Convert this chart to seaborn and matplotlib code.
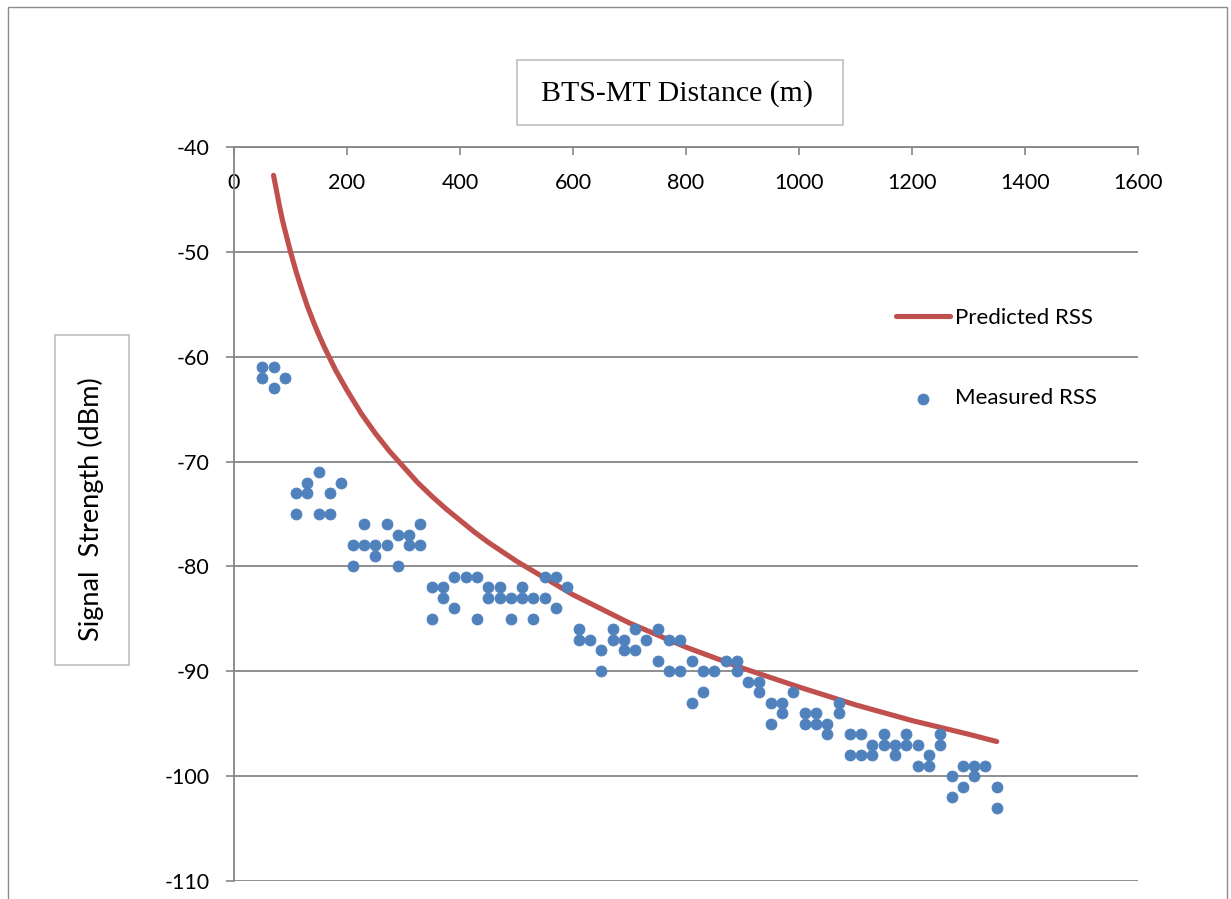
import matplotlib
matplotlib.use("Agg")
import matplotlib.pyplot as plt
import seaborn as sns
import pandas as pd
from matplotlib.patches import Rectangle

# ---------------- data ----------------
distance_m = [50, 50, 70, 70, 90, 110, 110, 130, 130, 150, 150, 170, 170, 190,
              210, 210, 230, 230, 250, 250, 270, 270, 290, 290, 310, 310, 330, 330,
              350, 350, 370, 370, 390, 390, 410, 430, 430, 450, 450, 470, 470,
              490, 490, 510, 510, 530, 530, 550, 550, 570, 570, 590,
              610, 610, 630, 650, 650, 670, 670, 690, 690, 710, 710, 730,
              750, 750, 770, 770, 790, 790, 810, 810, 830, 830, 850, 870,
              890, 890, 910, 930, 930, 950, 950, 970, 970, 990,
              1010, 1010, 1030, 1030, 1050, 1050, 1070, 1070, 1090, 1090,
              1110, 1110, 1130, 1130, 1150, 1150, 1170, 1170, 1190, 1190,
              1210, 1210, 1230, 1230, 1250, 1250, 1270, 1270, 1290, 1290,
              1310, 1310, 1330, 1350, 1350]
measured_rss = [-61, -62, -61, -63, -62, -73, -75, -72, -73, -71, -75, -73, -75, -72,
                -78, -80, -76, -78, -78, -79, -76, -78, -77, -80, -77, -78, -76, -78,
                -82, -85, -82, -83, -81, -84, -81, -81, -85, -82, -83, -82, -83,
                -83, -85, -82, -83, -83, -85, -81, -83, -81, -84, -82,
                -86, -87, -87, -88, -90, -86, -87, -87, -88, -86, -88, -87,
                -86, -89, -87, -90, -87, -90, -89, -93, -90, -92, -90, -89,
                -89, -90, -91, -91, -92, -93, -95, -93, -94, -92,
                -94, -95, -94, -95, -95, -96, -93, -94, -96, -98,
                -96, -98, -97, -98, -96, -97, -97, -98, -96, -97,
                -97, -99, -98, -99, -96, -97, -100, -102, -99, -101,
                -99, -100, -99, -101, -103]

pred_distance_m = [70, 75, 80, 85, 90, 100, 110, 120, 130, 140, 150, 160, 170, 180,
                   200, 225, 250, 275, 300, 325, 350, 375, 400, 425, 450, 500,
                   600, 700, 800, 900, 1000, 1100, 1200, 1300, 1350]
predicted_rss = [-42.7, -44.1, -45.5, -46.8, -47.9, -50.0, -51.9, -53.6, -55.2, -56.6,
                 -57.9, -59.1, -60.2, -61.3, -63.2, -65.4, -67.3, -69.0, -70.5, -72.0,
                 -73.3, -74.5, -75.6, -76.7, -77.7, -79.5, -82.7, -85.4, -87.7, -89.7,
                 -91.5, -93.2, -94.7, -96.0, -96.7]

x_ticks = [0, 200, 400, 600, 800, 1000, 1200, 1400, 1600]
y_ticks = [-110, -100, -90, -80, -70, -60, -50, -40]

x_title = "BTS-MT Distance (m)"
y_title = "Signal  Strength (dBm)"

# ---------------- style ----------------
sns.set_theme(style="white")
plt.rcParams['font.family'] = ['Lato', 'DejaVu Sans']

W, H = 1231, 899
fig = plt.figure(figsize=(W / 100, H / 100), dpi=100)
fig.patch.set_facecolor("white")

def fx(px):
    return px / W

def fy(py):
    return 1 - py / H

ax = fig.add_axes([fx(234), fy(881), fx(1138) - fx(234), fy(147) - fy(881)])
ax.set_facecolor("white")

gridc = "#868686"
blue = "#4F81BD"
red = "#C0504D"

meas = pd.DataFrame({"distance": distance_m, "rss": measured_rss})
pred = pd.DataFrame({"distance": pred_distance_m, "rss": predicted_rss})

sns.lineplot(data=pred, x="distance", y="rss", ax=ax, color=red, linewidth=3.7,
             label="Predicted RSS", sort=False, estimator=None, zorder=3,
             solid_capstyle="round", solid_joinstyle="round")
sns.scatterplot(data=meas, x="distance", y="rss", ax=ax, color=blue, s=62,
                edgecolor=blue, linewidth=0.6, label="Measured RSS", zorder=4)

ax.set_xlim(0, 1600)
ax.set_ylim(-110, -40)
ax.set_xticks(x_ticks)
ax.set_yticks(y_ticks)
ax.set_xticklabels([str(v) for v in x_ticks])
ax.set_yticklabels([str(v) for v in y_ticks])
ax.set_xlabel("")
ax.set_ylabel("")

ax.yaxis.grid(True, color=gridc, linewidth=1.3)
ax.xaxis.grid(False)
ax.set_axisbelow(True)

for side in ["right", "bottom"]:
    ax.spines[side].set_visible(False)
for side in ["left", "top"]:
    ax.spines[side].set_visible(True)
    ax.spines[side].set_color(gridc)
    ax.spines[side].set_linewidth(1.3)

ax.xaxis.set_ticks_position("top")
ax.tick_params(axis="x", top=True, bottom=False, labeltop=True, labelbottom=False,
               direction="in", length=6, width=1.2, color=gridc, pad=-19,
               labelsize=15.5, labelcolor="black")
for t in ax.xaxis.get_major_ticks():
    t.label2.set_va("top")
ax.tick_params(axis="y", left=True, direction="out", length=5.5, width=1.2,
               color=gridc, pad=12, labelsize=15.5, labelcolor="black")

# legend
handles, labels = ax.get_legend_handles_labels()
leg = ax.legend(handles, labels, frameon=False, loc="upper left",
                bbox_to_anchor=(fx(896), fy(308)), bbox_transform=fig.transFigure,
                borderpad=0, borderaxespad=0, handlelength=2.45, handletextpad=0.2,
                labelspacing=2.72, fontsize=16, markerscale=1.0)
for txt in leg.get_texts():
    txt.set_color("black")

# outer frame
fig.patches.append(Rectangle((fx(8), fy(905)), fx(1227) - fx(8), fy(7) - fy(905),
                             transform=fig.transFigure, fill=False,
                             edgecolor="#8C8C8C", linewidth=1.0))

# title box
fig.patches.append(Rectangle((fx(517), fy(125)), fx(843) - fx(517), fy(60) - fy(125),
                             transform=fig.transFigure, facecolor="white",
                             edgecolor="#BFBFBF", linewidth=1.2))
fig.text(fx(677), fy(94), x_title, ha="center", va="center",
         family=["Liberation Serif", "DejaVu Serif"], fontsize=21.5, color="black")

# y-label box
fig.patches.append(Rectangle((fx(55), fy(665)), fx(129) - fx(55), fy(335) - fy(665),
                             transform=fig.transFigure, facecolor="white",
                             edgecolor="#BFBFBF", linewidth=1.2))
fig.text(fx(91), fy(509), y_title, ha="center", va="center", rotation=90,
         fontsize=19.5, color="black")

fig.savefig("out.png", dpi=100, facecolor="white")
